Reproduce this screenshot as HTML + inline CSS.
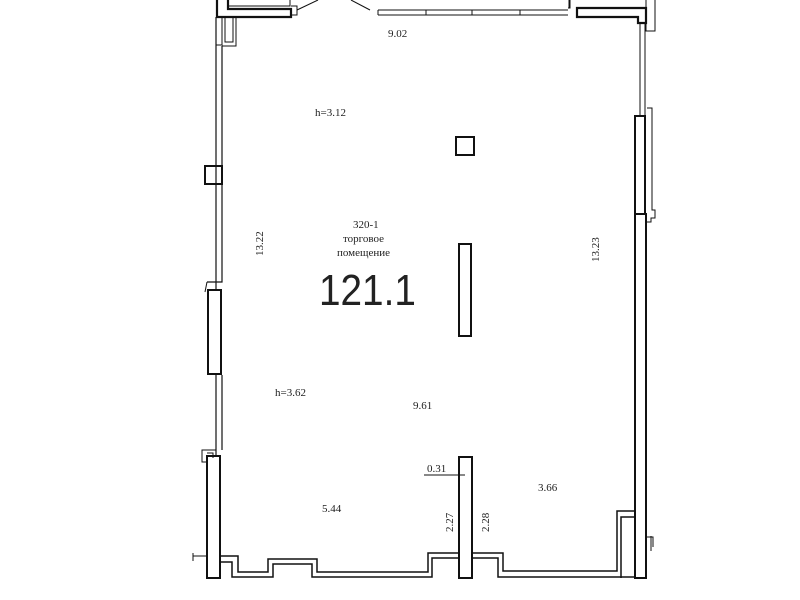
<!DOCTYPE html>
<html><head><meta charset="utf-8"><style>
html,body{margin:0;padding:0;background:#fff;width:800px;height:600px;overflow:hidden}
svg{display:block}
text{font-family:"Liberation Serif",serif;fill:#222}
</style></head><body>
<svg width="800" height="600" viewBox="0 0 800 600" xmlns="http://www.w3.org/2000/svg">
<g fill="none" stroke="#111">
<path d="M217 0 V17 H291 V9 H228 V0" stroke-width="2.2"/>
<path d="M228 0 V6 H290 V0 M291 6 H297 V15 H292" stroke-width="1"/>
<path d="M297 10 L318 0" stroke-width="1"/>
<path d="M222 17 V45 H216 M225 17 V42 H233 V17 M236 17 V46 H222" stroke-width="1"/>
<path d="M216 17 V290 M222 46 V282 H207 M216 375 V455 M222 375 V450" stroke-width="1.2"/>
<path d="M207 282 L205 292" stroke-width="1"/>
<rect x="208" y="290" width="13" height="84" stroke-width="2"/>
<rect x="205" y="166" width="17" height="18" stroke-width="2"/>
<path d="M216 450 H202 V462 H207 M207 453 H213 V458" stroke-width="1"/>
<rect x="207" y="456" width="13" height="122" stroke-width="2"/>
<path d="M193 556 H207 M193 553 V561" stroke-width="1"/>
<path d="M351 0 L370 10" stroke-width="1"/>
<path d="M378 10 H568 M378 15 H568 M378 10 V15 M426 10 V15 M472 10 V15 M520 10 V15" stroke-width="1"/>
<path d="M568 8 H570 V0 M570 8 V0" stroke-width="1"/>
<path d="M577 8 H646 V23 H638 V17 H577 Z" stroke-width="2.2"/>
<path d="M569 8 V0 M646 0 V31 H655 V0" stroke-width="1"/>
<path d="M640 23 V115 M645 23 V115 M647 108 H652 V210 H655 V218 H651 V222 H645" stroke-width="1"/>
<rect x="635" y="116" width="10" height="98" stroke-width="2"/>
<rect x="635" y="214" width="11" height="364" stroke-width="2"/>
<path d="M646 537 H653 V547 M651 536 V551" stroke-width="1"/>
<rect x="456" y="137" width="18" height="18" stroke-width="2"/>
<rect x="459" y="244" width="12" height="92" stroke-width="2"/>
<rect x="459" y="457" width="13" height="121" stroke-width="2"/>
<path d="M220 556 H238 V572 H268 V559 H317 V572 H428 V553 H459 M472 553 H503 V571 H617 V511 H635" stroke-width="1.5"/>
<path d="M220 562 H232 V577 H273 V564 H312 V577 H432 V558 H459 M472 558 H498 V577 H635 M621 578 V517 H635" stroke-width="1.5"/>
<path d="M424 475 H465" stroke-width="1"/>
</g>
<g font-size="11">
<text x="388" y="37">9.02</text>
<text x="315" y="116">h=3.12</text>
<text x="353" y="228">320-1</text>
<text x="343" y="242">торговое</text>
<text x="337" y="256">помещение</text>
<text x="275" y="396">h=3.62</text>
<text x="413" y="409">9.61</text>
<text x="427" y="472">0.31</text>
<text x="538" y="491">3.66</text>
<text x="322" y="512">5.44</text>
<text transform="translate(263,256) rotate(-90)">13.22</text>
<text transform="translate(599,262) rotate(-90)">13.23</text>
<text transform="translate(453,532) rotate(-90)">2.27</text>
<text transform="translate(489,532) rotate(-90)">2.28</text>
</g>
<text transform="translate(319,305) scale(0.88,1)" font-size="44" style="font-family:'Liberation Sans',sans-serif" fill="#000">121.1</text>
</svg>
</body></html>
